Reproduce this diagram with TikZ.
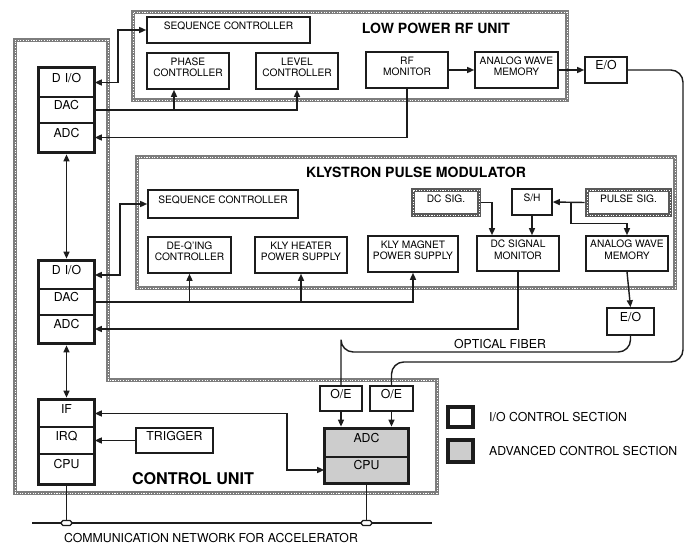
\documentclass[tikz,border=0pt]{standalone}
\usepackage{fontspec}
\setmainfont{TeX Gyre Heros}
\usetikzlibrary{
  arrows.meta,
  calc,
  fit,
  positioning
}
\definecolor{ink}{RGB}{28,28,28}
\definecolor{shade}{RGB}{205,205,205}
\definecolor{bandgray}{RGB}{125,125,125}
\tikzset{
  >={Triangle[length=1.4mm,width=1.2mm]},
  flow/.style={->,line width=.8pt,draw=ink},
  both flow/.style={<->,line width=.8pt,draw=ink},
  wire/.style={line width=.8pt,draw=ink},
  fiber/.style={line width=.8pt,draw=ink,rounded corners=7pt},
  box/.style={
    draw=ink,
    line width=.9pt,
    fill=white,
    inner sep=0pt,
    align=center,
    font=\fontsize{5.8}{6.6}\selectfont
  },
  row/.style={box,font=\fontsize{7}{8}\selectfont},
  adv/.style={row,fill=shade},
  io frame/.style={draw=ink,line width=1.8pt,inner sep=0pt},
  speckle/.style={postaction={draw=white,line width=.5pt,dash pattern=on .6pt off .9pt}},
  sig box/.style={box,draw=black!65,line width=2.6pt,speckle},
  unit frame/.style={draw=bandgray,line width=2.3pt,inner sep=0pt,speckle},
  title/.style={font=\bfseries\fontsize{8}{9}\selectfont},
  plain label/.style={font=\fontsize{7}{8}\selectfont},
  tap/.style={draw=ink,line width=.7pt,fill=white,rounded corners=.8pt,inner sep=0pt}
}
\newcommand{\blk}[5][]{%
  \node[box,fit={(#3) (#4)},#1] (#2) {#5};%
}

\begin{document}
\begin{tikzpicture}[x=0.02cm,y=-0.02cm]
  \useasboundingbox (0,0) rectangle (694,544);

  % Unit borders.
  \draw[unit frame] (15,40) -- (108,40) -- (108,380) -- (437,380)
    -- (437,493) -- (15,493) -- cycle;
  \node[unit frame,fit={(133,12) (567,100)}] (lprf) {};
  \node[unit frame,fit={(137,157) (675,288)}] (kpm) {};
  \node[title] (lprft) at (436,28) {LOW POWER RF UNIT};
  \node[title] (kpmt) at (416,172) {KLYSTRON PULSE MODULATOR};
  \node[font=\bfseries\fontsize{9.2}{10}\selectfont] (cut) at (193,479) {CONTROL UNIT};

  % Low power RF unit.
  \blk{rfseq}{147,17}{310,43}{SEQUENCE CONTROLLER}
  \blk{phase}{147,53}{229,89}{PHASE\\CONTROLLER}
  \blk{level}{256,53}{338,89}{LEVEL\\CONTROLLER}
  \blk{rfmon}{366,52}{448,88}{RF\\MONITOR}
  \blk{awmA}{475,52}{558,88}{ANALOG WAVE\\MEMORY}
  \blk[row]{eoA}{585,57}{627,83}{E/O}

  % Klystron pulse modulator.
  \blk{kseq}{148,190}{298,218}{SEQUENCE CONTROLLER}
  \blk{deq}{148,237}{231,273}{DE-Q'ING\\CONTROLLER}
  \blk{heat}{255,237}{347,273}{KLY HEATER\\POWER SUPPLY}
  \blk{mag}{368,236}{458,272}{KLY MAGNET\\POWER SUPPLY}
  \blk{dcmon}{477,236}{559,271}{DC SIGNAL\\MONITOR}
  \blk{awmB}{586,236}{668,271}{ANALOG WAVE\\MEMORY}
  \blk[sig box]{dcsig}{413,190}{479,215}{DC SIG.}
  \blk{sh}{512,189}{552,215}{S/H}
  \blk[sig box]{psig}{587,190}{670,215}{PULSE SIG.}
  \blk[row]{eoB}{607,308}{654,335}{E/O}

  % I/O stacks of the control unit.
  \blk[row]{dioA}{39,68}{94,97}{D I/O}
  \blk[row]{dacA}{39,97}{94,123}{DAC}
  \blk[row]{adcA}{39,123}{94,152}{ADC}
  \node[io frame,fit=(dioA) (adcA)] (ioA) {};
  \blk[row]{dioB}{39,261}{94,289}{D I/O}
  \blk[row]{dacB}{39,289}{94,315}{DAC}
  \blk[row]{adcB}{39,315}{94,343}{ADC}
  \node[io frame,fit=(dioB) (adcB)] (ioB) {};
  \blk[row]{ifC}{39,400}{94,427}{IF}
  \blk[row]{irqC}{39,427}{94,454}{IRQ}
  \blk[row]{cpuC}{39,454}{94,484}{CPU}
  \node[io frame,fit=(ifC) (cpuC)] (ioC) {};
  \blk[row]{trig}{136,428}{213,453}{TRIGGER}

  % Advanced control section.
  \blk[row]{oeA}{320,386}{362,411}{O/E}
  \blk[row]{oeB}{370,386}{413,411}{O/E}
  \blk[adv]{advadc}{325,429}{408,457}{ADC}
  \blk[adv]{advcpu}{325,457}{408,483}{CPU}
  \node[io frame,fit=(advadc) (advcpu)] (advA) {};

  % Legend.
  \node[io frame,fill=white,fit={(448,407) (473,427)}] (lgA) {};
  \node[io frame,fill=shade,fit={(448,440) (473,462)}] (lgB) {};
  \node[plain label,anchor=west] (lgAt) at (483,417) {I/O CONTROL SECTION};
  \node[plain label,anchor=west] (lgBt) at (483,451) {ADVANCED CONTROL SECTION};

  % Signals, RF unit.
  \draw[both flow] (dioA.east) -| (118,30) -- (rfseq.west);
  \draw[flow] (dacA.east) -| (level.south);
  \draw[flow] (dacA.east) -| ([xshift=-.28cm]phase.south);
  \draw[flow] (rfmon.south) |- (adcA.east);
  \draw[flow] (rfmon.east) -- (awmA.west);
  \draw[flow] (awmA.east) -- (eoA.west);

  % Signals, modulator.
  \draw[both flow] (dioB.east) -| (120,204) -- (kseq.west);
  \draw[flow] (dacB.east) -| (mag.south);
  \draw[flow] (dacB.east) -| (heat.south);
  \draw[flow] (dacB.east) -| (deq.south);
  \draw[flow] (dcmon.south) |- (adcB.east);
  \draw[flow] (dcsig.east) -| ([xshift=-.52cm]dcmon.north);
  \draw[flow] (sh.south) -- (sh.south |- dcmon.north);
  \draw[flow] (psig.west) -- (sh.east);
  \coordinate (ptap) at ($(sh.east)!.57!(psig.west)$);
  \draw[flow] (ptap) -- ++(0,21) -| (awmB.north);
  \draw[flow] (awmB.south) -- (eoB.north);

  % Optical fibers.
  \draw[fiber] (eoA.east) -| (683,362) -| (oeB.north);
  \draw[fiber] (eoB.south) |- (341,352) -| (oeA.north);
  \node[plain label] (oft) at (500,344) {OPTICAL FIBER};
  \draw[flow] (oeA.south) -- (oeA.south |- advA.north);
  \draw[flow] (oeB.south) -- (oeB.south |- advA.north);

  % Control unit links.
  \draw[both flow] (ioA.south) -- (ioB.north);
  \draw[both flow] (ioB.south) -- (ioC.north);
  \draw[both flow] (ifC.east) -| (287,470) -- (advcpu.west);
  \draw[flow] (trig.west) -- (irqC.east);

  % Network bus.
  \coordinate (busL) at (32,523);
  \coordinate (busR) at (432,523);
  \draw[wire] (busL) -- (busR);
  \node[tap,fit={(61.5,520.5) (71.5,525.5)}] (tapA) {};
  \node[tap,fit={(361.5,520.5) (371.5,525.5)}] (tapB) {};
  \draw[wire] (ioC.south) -- (tapA.north);
  \draw[wire] (advA.south) -- (tapB.north);
  \node[plain label] (bust) at (211,538) {COMMUNICATION NETWORK FOR ACCELERATOR};
\end{tikzpicture}
\end{document}
